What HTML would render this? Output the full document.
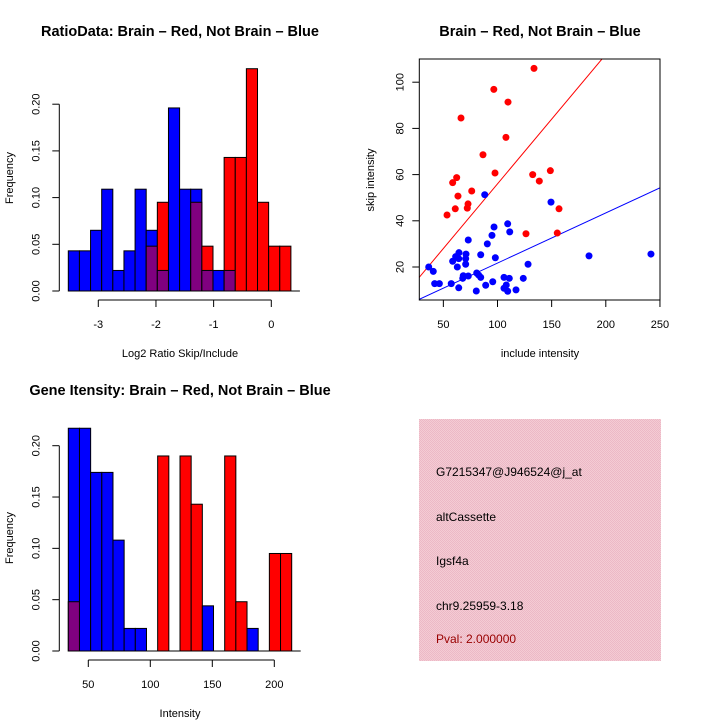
<!DOCTYPE html>
<html><head><meta charset="utf-8"><style>
body{margin:0;background:#fff}
svg{display:block;font-family:"Liberation Sans",sans-serif}
</style></head><body>
<svg id="c" width="720" height="720" viewBox="0 0 720 720">
<defs><pattern id="hatch" width="2" height="2" patternUnits="userSpaceOnUse"><rect width="2" height="2" fill="#f4ccd4"/><rect width="1" height="1" fill="#ecb8c6"/><rect x="1" y="1" width="1" height="1" fill="#ecb8c6"/></pattern></defs>
<text x="180" y="36" text-anchor="middle" font-size="14.5" font-weight="bold">RatioData: Brain – Red, Not Brain – Blue</text>
<text x="540" y="36" text-anchor="middle" font-size="14.5" font-weight="bold">Brain – Red, Not Brain – Blue</text>
<text x="180" y="395" text-anchor="middle" font-size="14.5" font-weight="bold">Gene Itensity: Brain – Red, Not Brain – Blue</text>
<text x="180" y="357" text-anchor="middle" font-size="11">Log2 Ratio Skip/Include</text>
<text x="540" y="357" text-anchor="middle" font-size="11">include intensity</text>
<text x="180" y="717" text-anchor="middle" font-size="11">Intensity</text>
<text transform="translate(13,178) rotate(-90)" text-anchor="middle" font-size="11">Frequency</text>
<text transform="translate(13,538) rotate(-90)" text-anchor="middle" font-size="11">Frequency</text>
<text transform="translate(374,180) rotate(-90)" text-anchor="middle" font-size="11">skip intensity</text>
<g>
<rect x="419" y="419" width="242" height="242" fill="url(#hatch)"/>
<g font-size="12" fill="#000">
<text x="436" y="476">G7215347@J946524@j_at</text>
<text x="436" y="521">altCassette</text>
<text x="436" y="565">Igsf4a</text>
<text x="436" y="610">chr9.25959-3.18</text>
<text x="436" y="643" fill="#990000">Pval: 2.000000</text>
</g></g>
<g id="g1"></g><g id="g2"></g><g id="g3"></g>
</svg>
<script>
// Ratio histogram data
const ratioBlue=[0.043,0.043,0.065,0.109,0.022,0.043,0.109,0.065,0.022,0.196,0.109,0.109,0.022,0.022,0.022,0,0,0,0,0];
const ratioRed=[0,0,0,0,0,0,0,0.048,0.095,0,0,0.095,0.048,0,0.143,0.143,0.238,0.095,0.048,0.048];
const ratioTicks=[-3,-2,-1,0];
const ratioYTicks=[0,0.05,0.10,0.15,0.20];
// Intensity histogram data
const intBlue=[0.217,0.217,0.174,0.174,0.108,0.022,0.022,0,0,0,0,0,0.044,0,0,0,0.022,0,0,0];
const intRed=[0.048,0,0,0,0,0,0,0,0.190,0,0.190,0.143,0,0,0.190,0.048,0,0,0.095,0.095];
const intTicks=[50,100,150,200];
const intYTicks=[0,0.05,0.10,0.15,0.20];
// Scatter data
const redX=[133.7,96.6,109.7,66.3,107.8,86.6,97.7,132.5,148.8,138.6,58.6,62.3,76.2,63.5,72.8,72.1,61,53.4,156.8,126.3,155.2];
const redY=[106,96.9,91.4,84.5,76.1,68.6,60.7,60,61.7,57.2,56.5,58.7,52.9,50.7,47.3,45.5,45.2,42.5,45.2,34.4,34.7];
const blueX=[88.2,149.4,109.4,96.8,111.3,94.9,73,90.6,64.4,84.5,70.9,61.4,58.6,64.2,70.6,70.6,62.9,98,184.5,241.7,128.2,36.5,40.7,42,46.3,57.3,64.2,68.4,73,67.9,80.8,82.6,84.5,80.4,89.1,95.6,106,110.9,123.8,108.1,106,109.4,117.1];
const blueY=[51.3,48.1,38.7,37.3,35.2,33.7,31.7,30,26.2,25.3,25.6,24.5,22.5,23.6,23.6,21.2,20,24,24.8,25.6,21.2,20,18.1,12.8,12.8,12.8,11,16.2,16.1,15.1,17.4,16.5,15.5,9.6,12.1,13.6,15.5,15.1,15.1,12.2,10.8,9.5,10.1];
const redSlope=0.56, blueSlope=0.217;
const sxTicks=[50,100,150,200,250];
const syTicks=[20,40,60,80,100];

const NS='http://www.w3.org/2000/svg';
function mk(p,t,a){const e=document.createElementNS(NS,t);for(const k in a)e.setAttribute(k,a[k]);p.appendChild(e);return e;}

function hist(g,blue,red,x0,bw,base,ys,xTicks,xs,yTicks,axisX,tickLabelY,fmt,name){
  const y=v=>base-v*ys;
  for(let i=0;i<blue.length;i++){
    const b=blue[i],r=red[i],x=x0+i*bw;
    const hi=Math.max(b,r),lo=Math.min(b,r);
    if(hi>0){const e=mk(g,'rect',{x:x,y:y(hi),width:bw,height:hi*ys,fill:b>=r?'#0000ff':'#ff0000',stroke:'#000','stroke-width':1});
      
      }
    if(lo>0){const e=mk(g,'rect',{x:x,y:y(lo),width:bw,height:lo*ys,fill:'#800080',stroke:'#000','stroke-width':1});
      
      }
  }
  const ax=mk(g,'line',{x1:x0,y1:base,x2:x0+blue.length*bw+9,y2:base,stroke:'#000'});
  
  
  const ya=mk(g,'line',{x1:axisX,y1:y(yTicks[0]),x2:axisX,y2:y(yTicks[yTicks.length-1]),stroke:'#000'});
  
  
  yTicks.forEach(v=>{mk(g,'line',{x1:axisX-7,y1:y(v),x2:axisX,y2:y(v),stroke:'#000'});
    const t=mk(g,'text',{transform:`translate(${axisX-20},${y(v)}) rotate(-90)`,'text-anchor':'middle','font-size':11});t.textContent=v.toFixed(2);
    
    });
  const xa=mk(g,'line',{x1:xs(xTicks[0]),y1:base+9,x2:xs(xTicks[xTicks.length-1]),y2:base+9,stroke:'#000'});
  
  
  xTicks.forEach(v=>{mk(g,'line',{x1:xs(v),y1:base+9,x2:xs(v),y2:base+16,stroke:'#000'});
    const t=mk(g,'text',{x:xs(v),y:tickLabelY,'text-anchor':'middle','font-size':11});t.textContent=fmt(v);
    
    });
}
hist(document.getElementById('g1'),ratioBlue,ratioRed,68.3,11.13,291,934,ratioTicks,v=>271.3+v*57.67,ratioYTicks,59.3,328,v=>v===0?'0':String(v),'ratio');
hist(document.getElementById('g2'),intBlue,intRed,68.3,11.17,651,1026.5,intTicks,v=>88.3+(v-50)*1.24,intYTicks,59.3,688,v=>String(v),'intensity');

const g3=document.getElementById('g3');
const sx=v=>389.2+v*1.083, sy=v=>313.2-v*2.31;
const L=419.3,R=660,T=59,B=300;
mk(g3,'clipPath',{id:'clp'}).appendChild(document.createElementNS(NS,'rect'));
const cr=document.querySelector('#clp rect');cr.setAttribute('x',L);cr.setAttribute('y',T);cr.setAttribute('width',R-L);cr.setAttribute('height',B-T);
[[redSlope,'#ff0000','red-fit-line'],[blueSlope,'#0000ff','blue-fit-line']].forEach(([s,c,n])=>{
  const e=mk(g3,'line',{x1:sx(20),y1:sy(20*s),x2:sx(260),y2:sy(260*s),stroke:c,'stroke-width':1,'clip-path':'url(#clp)'});
  
  });
redX.forEach((v,i)=>{const e=mk(g3,'circle',{cx:sx(v),cy:sy(redY[i]),r:3.5,fill:'#ff0000'});
  
  });
blueX.forEach((v,i)=>{const e=mk(g3,'circle',{cx:sx(v),cy:sy(blueY[i]),r:3.5,fill:'#0000ff'});
  
  });
const box=mk(g3,'rect',{x:L,y:T,width:R-L,height:B-T,fill:'none',stroke:'#000'});


sxTicks.forEach(v=>{mk(g3,'line',{x1:sx(v),y1:B,x2:sx(v),y2:B+7,stroke:'#000'});
  const t=mk(g3,'text',{x:sx(v),y:328,'text-anchor':'middle','font-size':11});t.textContent=v;
  
  });
syTicks.forEach(v=>{mk(g3,'line',{x1:L-7,y1:sy(v),x2:L,y2:sy(v),stroke:'#000'});
  const t=mk(g3,'text',{transform:`translate(${L-16},${sy(v)}) rotate(-90)`,'text-anchor':'middle','font-size':11});t.textContent=v;
  
  });
</script>
</body></html>
